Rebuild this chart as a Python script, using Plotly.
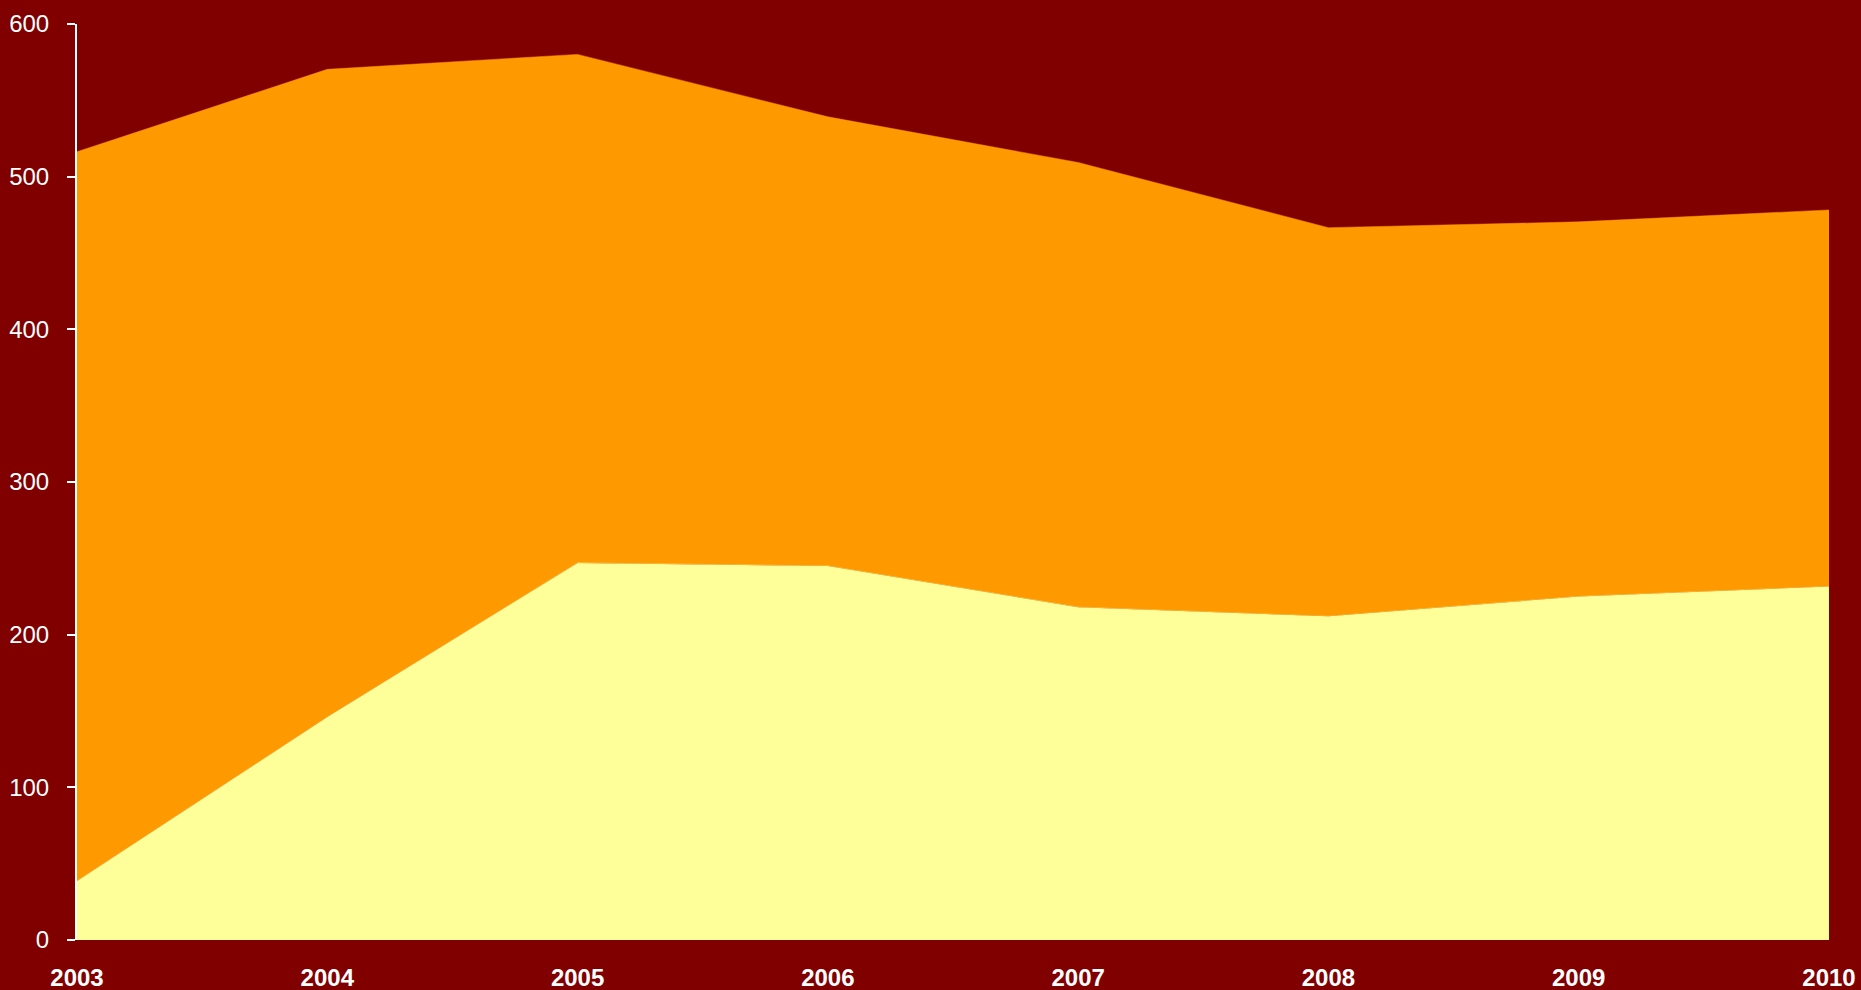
import plotly.graph_objects as go

years = [2003, 2004, 2005, 2006, 2007, 2008, 2009, 2010]
lower_series = [38.6, 146, 247, 245, 218, 212, 225, 231.5]
upper_series = [477.7, 424.3, 333.1, 294.2, 291.3, 254.6, 245.4, 246.7]
y_ticks = [0, 100, 200, 300, 400, 500, 600]

fig = go.Figure()
fig.add_trace(go.Scatter(
    x=years, y=lower_series, stackgroup="s", mode="lines",
    line=dict(width=0.5, color="#FFFF99"), fillcolor="#FFFF99", name="A"))
fig.add_trace(go.Scatter(
    x=years, y=upper_series, stackgroup="s", mode="lines",
    line=dict(width=0.5, color="#FF9900"), fillcolor="#FF9900", name="B"))

fig.update_layout(
    width=1861, height=990,
    paper_bgcolor="#800000", plot_bgcolor="#800000",
    margin=dict(l=77, r=32, t=24, b=50),
    showlegend=False,
    font=dict(family="Liberation Sans, Arial, sans-serif", color="white"),
)
fig.update_xaxes(
    range=[2003, 2010], tickvals=years, ticktext=[str(y) for y in years],
    showgrid=False, zeroline=False, showline=False, automargin=False,
    ticks="", ticklabelstandoff=21,
    tickfont=dict(size=24, family="Liberation Sans, Arial, sans-serif", color="white", weight="bold"),
)
fig.update_yaxes(
    range=[0, 600], tickvals=y_ticks, automargin=False,
    showgrid=False, zeroline=False, showline=True, linecolor="white", linewidth=2,
    ticks="outside", ticklen=8, tickcolor="white", tickwidth=2,
    ticklabelstandoff=13,
    tickfont=dict(size=24, color="white"),
)
fig.write_html(
    "out.html",
    config={"displayModeBar": False},
    post_script="document.body.style.margin='0';document.body.style.padding='0';document.body.style.overflow='hidden';",
)
